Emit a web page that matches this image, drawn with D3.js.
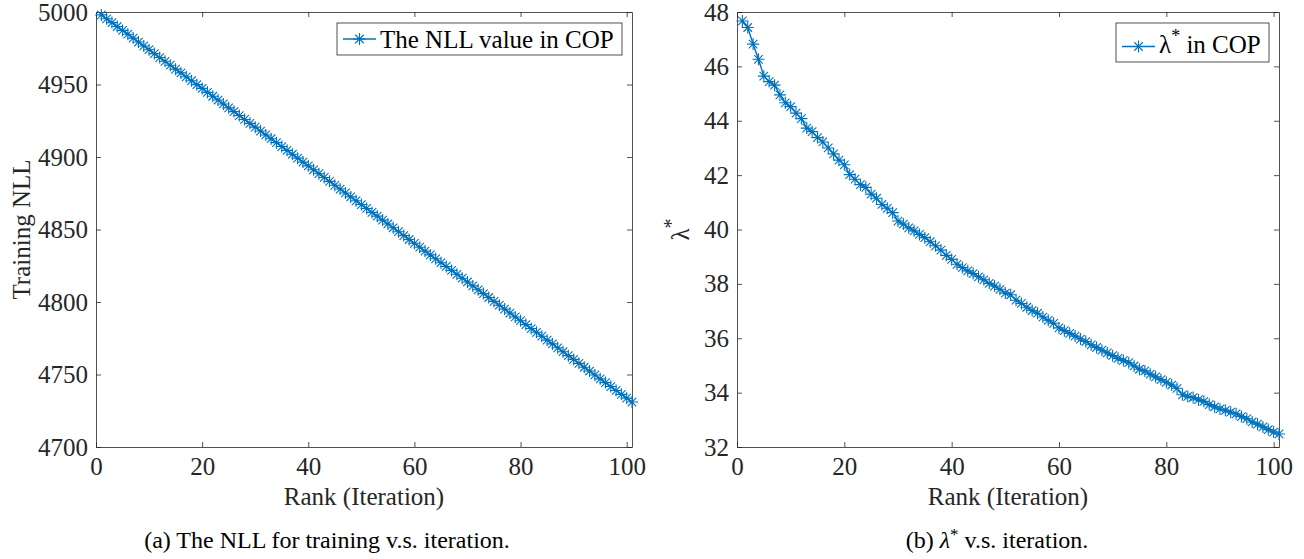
<!DOCTYPE html>
<html>
<head>
<meta charset="utf-8">
<script src="https://cdn.jsdelivr.net/npm/d3@7"></script>
<style>
  body { margin: 0; background: #fff; }
</style>
</head>
<body>
<svg id="chart" width="1304" height="559" font-family="Liberation Serif, Times New Roman, serif"></svg>
<script>
// iterations 1..101
var iterations = d3.range(1, 102);

// training NLL per iteration (left panel)
var nllValues = [
  4998.0, 4995.3, 4992.7, 4990.0, 4987.3, 4984.7, 4982.0, 4979.3, 4976.6, 4974.0,
  4971.3, 4968.6, 4966.0, 4963.3, 4960.6, 4958.0, 4955.3, 4952.6, 4949.9, 4947.3,
  4944.6, 4941.9, 4939.3, 4936.6, 4933.9, 4931.3, 4928.6, 4925.9, 4923.2, 4920.6,
  4917.9, 4915.2, 4912.6, 4909.9, 4907.2, 4904.6, 4901.9, 4899.2, 4896.5, 4893.9,
  4891.2, 4888.5, 4885.9, 4883.2, 4880.5, 4877.9, 4875.2, 4872.5, 4869.8, 4867.2,
  4864.5, 4861.8, 4859.2, 4856.5, 4853.8, 4851.2, 4848.5, 4845.8, 4843.1, 4840.5,
  4837.8, 4835.1, 4832.5, 4829.8, 4827.1, 4824.5, 4821.8, 4819.1, 4816.4, 4813.8,
  4811.1, 4808.4, 4805.8, 4803.1, 4800.4, 4797.8, 4795.1, 4792.4, 4789.7, 4787.1,
  4784.4, 4781.7, 4779.1, 4776.4, 4773.7, 4771.1, 4768.4, 4765.7, 4763.0, 4760.4,
  4757.7, 4755.0, 4752.4, 4749.7, 4747.0, 4744.4, 4741.7, 4739.0, 4736.3, 4733.7,
  4731.0
];

// lambda* per iteration (right panel)
var lambdaValues = [
  47.67, 47.43, 46.82, 46.26, 45.64, 45.44, 45.31, 44.95, 44.66, 44.52,
  44.28, 44.08, 43.73, 43.60, 43.38, 43.22, 43.00, 42.78, 42.55, 42.38,
  42.02, 41.85, 41.65, 41.55, 41.30, 41.15, 40.92, 40.78, 40.62, 40.31,
  40.20, 40.06, 39.95, 39.82, 39.70, 39.55, 39.40, 39.24, 39.05, 38.90,
  38.72, 38.60, 38.48, 38.38, 38.26, 38.15, 38.02, 37.92, 37.80, 37.66,
  37.60, 37.40, 37.28, 37.14, 37.02, 36.92, 36.78, 36.66, 36.55, 36.38,
  36.28, 36.18, 36.08, 35.97, 35.88, 35.76, 35.66, 35.56, 35.46, 35.36,
  35.26, 35.18, 35.10, 34.98, 34.86, 34.80, 34.68, 34.58, 34.48, 34.38,
  34.28, 34.16, 33.92, 33.86, 33.82, 33.74, 33.68, 33.56, 33.48, 33.40,
  33.35, 33.28, 33.22, 33.12, 33.04, 32.92, 32.84, 32.74, 32.64, 32.55,
  32.48
];

var xTicks = [0, 20, 40, 60, 80, 100];
var nllTicks = [4700, 4750, 4800, 4850, 4900, 4950, 5000];
var lambdaTicks = [32, 34, 36, 38, 40, 42, 44, 46, 48];

var lineColor = "#0072bd";
var axisColor = "#262626";
var serif = "Liberation Serif, Times New Roman, serif";
var fs = 25;

var svg = d3.select("#chart");

function drawPanel(p) {
  var w = p.right - p.left, h = p.bottom - p.top;
  var g = svg.append("g").attr("transform", "translate(" + p.left + "," + p.top + ")");

  var x = d3.scaleLinear().domain([0, 101]).range([0, w]);
  var y = d3.scaleLinear().domain(p.yDomain).range([h, 0]);

  // axes (box on, ticks inward on all sides)
  var tl = 5;
  g.append("g").attr("transform", "translate(0," + h + ")")
    .call(d3.axisBottom(x).tickValues(xTicks).tickFormat(d3.format("d")).tickSizeInner(-tl).tickSizeOuter(0).tickPadding(10))
    .call(styleAxis);
  g.append("g")
    .call(d3.axisTop(x).tickValues(xTicks).tickSizeInner(-tl).tickSizeOuter(0).tickFormat(""))
    .call(styleAxis);
  g.append("g")
    .call(d3.axisLeft(y).tickValues(p.yTicks).tickFormat(d3.format("d")).tickSizeInner(-tl).tickSizeOuter(0).tickPadding(8))
    .call(styleAxis);
  g.append("g").attr("transform", "translate(" + w + ",0)")
    .call(d3.axisRight(y).tickValues(p.yTicks).tickSizeInner(-tl).tickSizeOuter(0).tickFormat(""))
    .call(styleAxis);

  var data = iterations.map(function(d, i) { return {it: d, v: p.values[i]}; });

  var line = d3.line()
    .x(function(d) { return x(d.it); })
    .y(function(d) { return y(d.v); });

  g.append("path")
    .datum(data)
    .attr("fill", "none")
    .attr("stroke", lineColor)
    .attr("stroke-width", 1.4)
    .attr("d", line);

  g.selectAll(".mk")
    .data(data)
    .enter().append("path")
    .attr("class", "mk")
    .attr("transform", function(d) { return "translate(" + x(d.it) + "," + y(d.v) + ")"; })
    .attr("d", starPath(6))
    .attr("fill", "none")
    .attr("stroke", lineColor)
    .attr("stroke-width", 1.1);

  // axis label
  g.append("text")
    .attr("x", w / 2).attr("y", h + 58)
    .attr("text-anchor", "middle")
    .attr("fill", axisColor)
    .style("font-size", fs + "px")
    .text("Rank (Iteration)");

  p.yLabel(g, h);

  // legend
  var lg = svg.append("g").attr("transform", "translate(" + p.legend.x + "," + p.legend.y + ")");
  lg.append("rect")
    .attr("width", p.legend.w).attr("height", p.legend.h)
    .attr("fill", "#fff").attr("stroke", axisColor).attr("stroke-width", 0.8);
  var cy = p.legend.h / 2;
  lg.append("line")
    .attr("x1", 6).attr("x2", 39).attr("y1", cy + p.legend.dy).attr("y2", cy + p.legend.dy)
    .attr("stroke", lineColor).attr("stroke-width", 1.3);
  lg.append("path")
    .attr("transform", "translate(22.5," + (cy + p.legend.dy) + ")")
    .attr("d", starPath(6)).attr("fill", "none").attr("stroke", lineColor).attr("stroke-width", 1.1);
  p.legend.text(lg.append("text")
    .attr("x", 43).attr("y", p.legend.base)
    .attr("fill", "#000")
    .style("font-size", fs + "px"));

  // caption (centred under the whole sub-figure)
  p.caption(svg.append("text")
    .attr("x", p.captionX).attr("y", 548)
    .attr("text-anchor", "middle")
    .attr("fill", "#000")
    .style("font-size", "24px"));
}

function styleAxis(sel) {
  sel.attr("font-family", serif).attr("font-size", fs);
  sel.select(".domain").attr("stroke", axisColor).attr("stroke-width", 0.8);
  sel.selectAll(".tick line").attr("stroke", axisColor).attr("stroke-width", 0.8);
  sel.selectAll(".tick text").attr("fill", axisColor);
}

function starPath(r) {
  var d = r * Math.SQRT1_2;
  return "M" + (-r) + ",0L" + r + ",0M0," + (-r) + "L0," + r +
    "M" + (-d) + "," + (-d) + "L" + d + "," + d +
    "M" + (-d) + "," + d + "L" + d + "," + (-d);
}

drawPanel({
  left: 96, right: 632, top: 12, bottom: 447, captionX: 327,
  yDomain: [4700, 5000], yTicks: nllTicks, values: nllValues,
  yLabel: function(g, h) {
    g.append("text")
      .attr("transform", "translate(-66," + (h / 2) + ") rotate(-90)")
      .attr("text-anchor", "middle")
      .attr("fill", axisColor)
      .style("font-size", fs + "px")
      .text("Training NLL");
  },
  legend: {
    x: 337, y: 23, w: 285, h: 32, dy: 0, base: 25,
    text: function(t) { t.text("The NLL value in COP"); }
  },
  caption: function(t) { t.text("(a) The NLL for training v.s. iteration."); }
});

drawPanel({
  left: 737, right: 1279, top: 12, bottom: 447, captionX: 997,
  yDomain: [32, 48], yTicks: lambdaTicks, values: lambdaValues,
  yLabel: function(g, h) {
    var t = g.append("text")
      .attr("transform", "translate(-48," + (h / 2) + ") rotate(-90)")
      .attr("text-anchor", "middle")
      .attr("fill", axisColor)
      .style("font-size", fs + "px");
    t.append("tspan").text("\u03bb");
    t.append("tspan").attr("dy", -11).style("font-size", "20px").text("*");
  },
  legend: {
    x: 1116, y: 23, w: 153, h: 39, dy: 4, base: 30,
    text: function(t) {
      t.append("tspan").text("\u03bb");
      t.append("tspan").attr("dy", -11).style("font-size", "18px").text("*");
      t.append("tspan").attr("dy", 11).text(" in COP");
    }
  },
  caption: function(t) {
    t.append("tspan").text("(b) ");
    t.append("tspan").style("font-style", "italic").text("\u03bb");
    t.append("tspan").attr("dy", -8).style("font-size", "17px").text("*");
    t.append("tspan").attr("dy", 8).text(" v.s. iteration.");
  }
});
</script>
</body>
</html>
